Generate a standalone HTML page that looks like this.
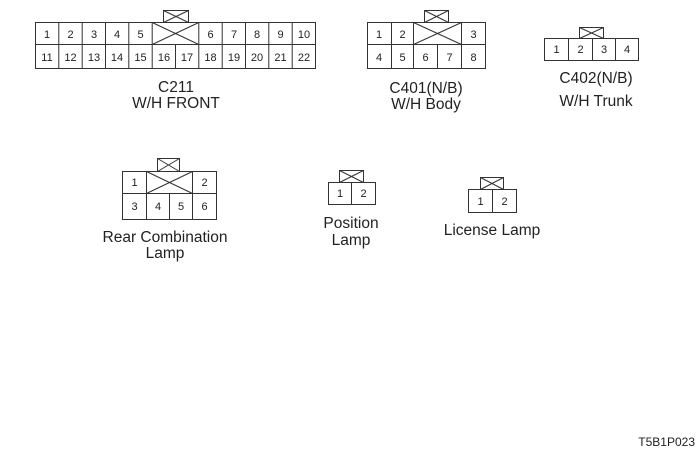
<!DOCTYPE html>
<html><head><meta charset="utf-8"><style>
html,body{margin:0;padding:0;background:#fff;width:700px;height:455px;overflow:hidden}
svg{display:block}
text{font-family:"Liberation Sans",sans-serif;fill:#222}
.n{font-size:11px;text-anchor:middle}
.l{font-size:15.5px;text-anchor:middle}
</style></head><body>
<svg width="700" height="455" viewBox="0 0 700 455" xmlns="http://www.w3.org/2000/svg">
<g fill="none" stroke="#333" stroke-width="1">
<rect x="35.5" y="22.5" width="280" height="46"/>
<line x1="35.5" y1="44.5" x2="315.5" y2="44.5"/>
<g>
<line x1="58.8" y1="22.5" x2="58.8" y2="68.5"/><line x1="82.2" y1="22.5" x2="82.2" y2="68.5"/>
<line x1="105.5" y1="22.5" x2="105.5" y2="68.5"/><line x1="128.8" y1="22.5" x2="128.8" y2="68.5"/>
<line x1="152.2" y1="22.5" x2="152.2" y2="68.5"/><line x1="175.5" y1="44.5" x2="175.5" y2="68.5"/>
<line x1="198.8" y1="22.5" x2="198.8" y2="68.5"/><line x1="222.2" y1="22.5" x2="222.2" y2="68.5"/>
<line x1="245.5" y1="22.5" x2="245.5" y2="68.5"/><line x1="268.8" y1="22.5" x2="268.8" y2="68.5"/>
<line x1="292.2" y1="22.5" x2="292.2" y2="68.5"/>
</g>
<line x1="152.2" y1="22.5" x2="198.8" y2="44.5"/><line x1="198.8" y1="22.5" x2="152.2" y2="44.5"/>
<rect x="163.5" y="10.5" width="25" height="12"/>
<line x1="163.5" y1="10.5" x2="188.5" y2="22.5"/><line x1="188.5" y1="10.5" x2="163.5" y2="22.5"/>
<rect x="367.5" y="22.5" width="118" height="46"/>
<line x1="367.5" y1="44.5" x2="485.5" y2="44.5"/>
<line x1="391.5" y1="22.5" x2="391.5" y2="68.5"/><line x1="413.5" y1="22.5" x2="413.5" y2="68.5"/>
<line x1="437.5" y1="44.5" x2="437.5" y2="68.5"/><line x1="461.5" y1="22.5" x2="461.5" y2="68.5"/>
<line x1="413.5" y1="22.5" x2="461.5" y2="44.5"/><line x1="461.5" y1="22.5" x2="413.5" y2="44.5"/>
<rect x="424.5" y="10.5" width="24" height="12"/>
<line x1="424.5" y1="10.5" x2="448.5" y2="22.5"/><line x1="448.5" y1="10.5" x2="424.5" y2="22.5"/>
<rect x="544.5" y="38.5" width="94" height="22"/>
<line x1="568.5" y1="38.5" x2="568.5" y2="60.5"/><line x1="592.5" y1="38.5" x2="592.5" y2="60.5"/>
<line x1="615.5" y1="38.5" x2="615.5" y2="60.5"/>
<rect x="579.5" y="27.5" width="24" height="11"/>
<line x1="579.5" y1="27.5" x2="603.5" y2="38.5"/><line x1="603.5" y1="27.5" x2="579.5" y2="38.5"/>
<rect x="122.5" y="171.5" width="94" height="48"/>
<line x1="122.5" y1="193.5" x2="216.5" y2="193.5"/>
<line x1="146.5" y1="171.5" x2="146.5" y2="219.5"/><line x1="169.5" y1="193.5" x2="169.5" y2="219.5"/>
<line x1="192.5" y1="171.5" x2="192.5" y2="219.5"/>
<line x1="146.5" y1="171.5" x2="192.5" y2="193.5"/><line x1="192.5" y1="171.5" x2="146.5" y2="193.5"/>
<rect x="157.5" y="158.5" width="22" height="13"/>
<line x1="157.5" y1="158.5" x2="179.5" y2="171.5"/><line x1="179.5" y1="158.5" x2="157.5" y2="171.5"/>
<rect x="328.5" y="182.5" width="47" height="22"/>
<line x1="351.5" y1="182.5" x2="351.5" y2="204.5"/>
<rect x="339.5" y="170.5" width="24" height="12"/>
<line x1="339.5" y1="170.5" x2="363.5" y2="182.5"/><line x1="363.5" y1="170.5" x2="339.5" y2="182.5"/>
<rect x="468.5" y="189.5" width="48" height="23"/>
<line x1="492.5" y1="189.5" x2="492.5" y2="212.5"/>
<rect x="480.5" y="177.5" width="23" height="12"/>
<line x1="480.5" y1="177.5" x2="503.5" y2="189.5"/><line x1="503.5" y1="177.5" x2="480.5" y2="189.5"/>
</g>
<g>
<text x="47" y="38" class="n">1</text><text x="70.5" y="38" class="n">2</text><text x="94" y="38" class="n">3</text>
<text x="117" y="38" class="n">4</text><text x="140.5" y="38" class="n">5</text>
<text x="210.5" y="38" class="n">6</text><text x="234" y="38" class="n">7</text><text x="257" y="38" class="n">8</text>
<text x="280.5" y="38" class="n">9</text><text x="304" y="38" class="n">10</text>
<text x="47" y="61" class="n">11</text><text x="70.5" y="61" class="n">12</text><text x="94" y="61" class="n">13</text>
<text x="117" y="61" class="n">14</text><text x="140.5" y="61" class="n">15</text><text x="164" y="61" class="n">16</text>
<text x="187" y="61" class="n">17</text><text x="210.5" y="61" class="n">18</text><text x="234" y="61" class="n">19</text>
<text x="257" y="61" class="n">20</text><text x="280.5" y="61" class="n">21</text><text x="304" y="61" class="n">22</text>
<text x="379" y="38" class="n">1</text><text x="402.5" y="38" class="n">2</text><text x="473.5" y="38" class="n">3</text>
<text x="379" y="61" class="n">4</text><text x="402.5" y="61" class="n">5</text><text x="425.5" y="61" class="n">6</text>
<text x="449.5" y="61" class="n">7</text><text x="473.5" y="61" class="n">8</text>
<text x="556.5" y="53" class="n">1</text><text x="580.5" y="53" class="n">2</text><text x="604" y="53" class="n">3</text><text x="627" y="53" class="n">4</text>
<text x="134.5" y="186" class="n">1</text><text x="204.5" y="186" class="n">2</text>
<text x="134.5" y="210" class="n">3</text><text x="158" y="210" class="n">4</text><text x="181" y="210" class="n">5</text><text x="204.5" y="210" class="n">6</text>
<text x="340" y="197" class="n">1</text><text x="363.5" y="197" class="n">2</text>
<text x="480.5" y="205" class="n">1</text><text x="504.5" y="205" class="n">2</text>
</g>
<text x="176" y="92" class="l">C211</text>
<text x="176" y="108" class="l">W/H FRONT</text>
<text x="426" y="93" class="l">C401(N/B)</text>
<text x="426" y="109" class="l">W/H Body</text>
<text x="596" y="83" class="l">C402(N/B)</text>
<text x="596" y="106" class="l">W/H Trunk</text>
<text x="165" y="242" class="l">Rear Combination</text>
<text x="165" y="258" class="l">Lamp</text>
<text x="351" y="228" class="l">Position</text>
<text x="351" y="245" class="l">Lamp</text>
<text x="492" y="235" class="l">License Lamp</text>
<text x="695" y="446" style="font-size:12px;text-anchor:end">T5B1P023</text>
</svg>
</body></html>
